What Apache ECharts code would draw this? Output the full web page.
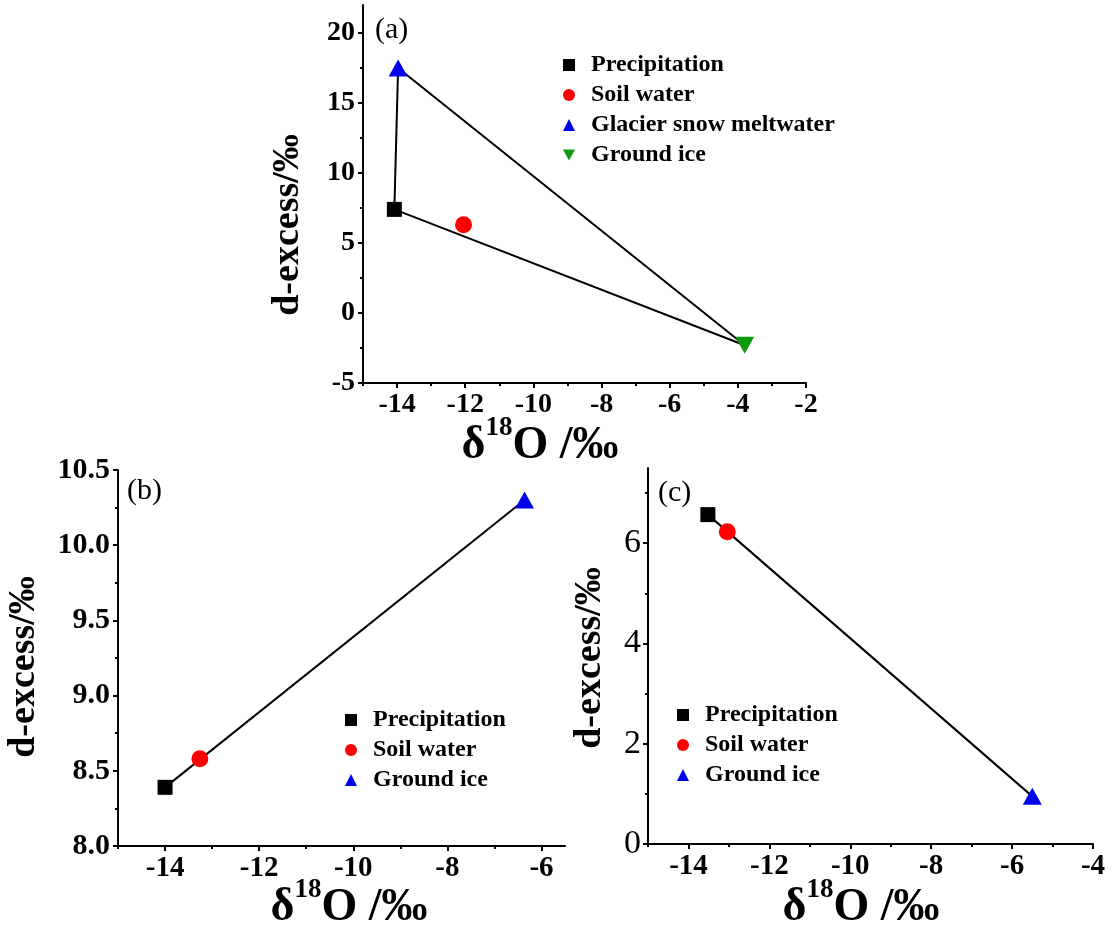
<!DOCTYPE html>
<html>
<head>
<meta charset="utf-8">
<script src="https://cdn.jsdelivr.net/npm/echarts@6/dist/echarts.min.js"></script>
<style>
  html, body { margin: 0; background: #fff; }
  #main { width: 1115px; height: 930px; }
</style>
</head>
<body>
<div id="main"></div>
<script>
// (a) end members
const precipA = [-14.08, 7.4];
const soilA = [-12.05, 6.3];
const glacierA = [-13.97, 17.5];
const iceA = [-3.8, -2.3];
// (b)
const precipB = [-14.0, 8.39];
const soilB = [-13.26, 8.58];
const iceB = [-6.36, 10.3];
// (c)
const precipC = [-13.52, 6.57];
const soilC = [-13.04, 6.23];
const iceC = [-5.5, 0.95];

// tick positions
const xTicksA = [-14, -12, -10, -8, -6, -4, -2];
const xMinorA = [-15, -13, -11, -9, -7, -5, -3];
const yTicksA = [-5, 0, 5, 10, 15, 20];
const yMinorA = [-2.5, 2.5, 7.5, 12.5, 17.5];
const xTicksB = [-14, -12, -10, -8, -6];
const xMinorB = [-15, -13, -11, -9, -7];
const yTicksB = [8, 8.5, 9, 9.5, 10, 10.5];
const yMinorB = [8.25, 8.75, 9.25, 9.75, 10.25];
const xTicksC = [-14, -12, -10, -8, -6, -4];
const xMinorC = [-15, -13, -11, -9, -7, -5];
const yTicksC = [0, 2, 4, 6];
const yMinorC = [1, 3, 5, 7];

const SERIF = '"Times New Roman", "Liberation Serif", serif';
const BLACK = '#000';
const RED = '#f00';
const BLUE = '#0000f0';
const GREEN = '#0c9a0c';

let myChart = echarts.init(document.getElementById('main'));

// main axis with labels + major ticks, and a bare axis only for the minor ticks
function axisPair(dim, gridIndex, min, max, ticks, minor, label) {
    let pos = dim === 'x' ? 'bottom' : 'left';
    return [
        {
            type: 'value', gridIndex: gridIndex, min: min, max: max, position: pos,
            axisLine: {show: true, onZero: false, lineStyle: {color: BLACK, width: 2}},
            axisTick: {show: true, customValues: ticks, length: 5, lineStyle: {color: BLACK, width: 2}},
            axisLabel: Object.assign({customValues: ticks, color: BLACK, fontFamily: SERIF}, label),
            splitLine: {show: false}
        },
        {
            type: 'value', gridIndex: gridIndex, min: min, max: max, position: pos,
            axisLine: {show: false, onZero: false},
            axisTick: {show: true, customValues: minor, length: 3, lineStyle: {color: BLACK, width: 2}},
            axisLabel: {show: false},
            splitLine: {show: false}
        }
    ];
}

function legendOf(left, top, items) {
    return {
        orient: 'vertical', left: left, top: top, padding: 0,
        itemWidth: 12, itemHeight: 12, itemGap: 6,
        selectedMode: false,
        textStyle: {fontSize: 24, fontWeight: 'bold', fontFamily: SERIF, color: BLACK,
            lineHeight: 24, padding: [0, 0, 0, 11]},
        data: items
    };
}

function scatter(name, point, symbol, color, x, y, extra) {
    return Object.assign({
        name: name, type: 'scatter', xAxisIndex: x, yAxisIndex: y,
        data: [point], symbol: symbol, itemStyle: {color: color, opacity: 1}, z: 3
    }, extra);
}

function mixLine(points, x, y) {
    return {
        type: 'line', xAxisIndex: x, yAxisIndex: y, data: points,
        symbol: 'none', lineStyle: {color: BLACK, width: 2}, z: 2, silent: true
    };
}

function xTitle(x, y) {
    return {
        type: 'text', x: x, y: y,
        style: {
            text: '{d|δ}{s|18}{d|O /‰}', align: 'center', verticalAlign: 'middle',
            textAlign: 'center', textVerticalAlign: 'middle',
            rich: {
                d: {fontSize: 46, fontWeight: 'bold', fontFamily: SERIF, fill: BLACK, verticalAlign: 'bottom', padding: [8, 0, 0, 0]},
                s: {fontSize: 27, fontWeight: 'bold', fontFamily: SERIF, fill: BLACK, verticalAlign: 'top'}
            }
        }
    };
}

function yTitle(x, y) {
    return {
        type: 'text', x: x, y: y, rotation: Math.PI / 2,
        style: {
            text: 'd-excess/‰', fontSize: 38, fontWeight: 'bold', fontFamily: SERIF, fill: BLACK,
            align: 'center', verticalAlign: 'middle', textAlign: 'center', textVerticalAlign: 'middle'
        }
    };
}

function panelTag(text, x, y) {
    return {
        type: 'text', x: x, y: y,
        style: {text: text, fontSize: 30, fontFamily: SERIF, fill: BLACK,
            align: 'left', verticalAlign: 'middle', textAlign: 'left', textVerticalAlign: 'middle'}
    };
}

let xAxes = [].concat(
    axisPair('x', 0, -15, -2, xTicksA, xMinorA, {fontSize: 28, fontWeight: 'bold', margin: 8}),
    axisPair('x', 1, -15, -5.5, xTicksB, xMinorB, {fontSize: 29, fontWeight: 'bold', margin: 8}),
    axisPair('x', 2, -15, -4, xTicksC, xMinorC, {fontSize: 29, fontWeight: 'bold', margin: 8})
);
let yAxes = [].concat(
    axisPair('y', 0, -5, 22, yTicksA, yMinorA, {fontSize: 28, fontWeight: 'bold', margin: 8}),
    axisPair('y', 1, 8, 10.5, yTicksB, yMinorB, {fontSize: 30, fontWeight: 'bold', margin: 8,
        formatter: function (v) { return v.toFixed(1); }}),
    axisPair('y', 2, 0, 7.5, yTicksC, yMinorC, {fontSize: 34, fontWeight: 'normal', margin: 7})
);

let option = {
    animation: false,
    backgroundColor: '#fff',
    grid: [
        {left: 363, top: 5, width: 443, height: 378, outerBoundsMode: 'none'},
        {left: 118, top: 470, width: 447, height: 376, outerBoundsMode: 'none'},
        {left: 648, top: 468, width: 445, height: 376, outerBoundsMode: 'none'}
    ],
    xAxis: xAxes,
    yAxis: yAxes,
    legend: [
        legendOf(563, 53, [
            {name: 'Precipitation', icon: 'rect', itemStyle: {color: BLACK}},
            {name: 'Soil water', icon: 'circle', itemStyle: {color: RED}},
            {name: 'Glacier snow meltwater', icon: 'triangle', itemStyle: {color: BLUE}},
            {name: 'Ground ice', icon: 'path://M0,0L10,0L5,9Z', itemStyle: {color: GREEN}}
        ]),
        legendOf(345, 708, [
            {name: 'Precipitation', icon: 'rect', itemStyle: {color: BLACK}},
            {name: 'Soil water', icon: 'circle', itemStyle: {color: RED}},
            {name: 'Ground ice', icon: 'triangle', itemStyle: {color: BLUE}}
        ]),
        legendOf(677, 703, [
            {name: 'Precipitation', icon: 'rect', itemStyle: {color: BLACK}},
            {name: 'Soil water', icon: 'circle', itemStyle: {color: RED}},
            {name: 'Ground ice', icon: 'triangle', itemStyle: {color: BLUE}}
        ])
    ],
    graphic: [
        panelTag('(a)', 375, 30),
        panelTag('(b)', 127, 491),
        panelTag('(c)', 658, 493),
        xTitle(540, 442),
        xTitle(349, 904),
        xTitle(861, 904),
        yTitle(288, 225),
        yTitle(24, 667),
        yTitle(590, 658)
    ],
    series: [
        // (a): mixing triangle, axes 0 / 0
        mixLine([precipA, glacierA, iceA, precipA], 0, 0),
        scatter('Precipitation', precipA, 'rect', BLACK, 0, 0, {symbolSize: 15}),
        scatter('Soil water', soilA, 'circle', RED, 0, 0, {symbolSize: 17}),
        scatter('Glacier snow meltwater', glacierA, 'triangle', BLUE, 0, 0, {symbolSize: [19, 17]}),
        scatter('Ground ice', iceA, 'triangle', GREEN, 0, 0, {symbolSize: [19, 17], symbolRotate: 180}),
        // (b): axes 2 / 2
        mixLine([precipB, iceB], 2, 2),
        scatter('Precipitation', precipB, 'rect', BLACK, 2, 2, {symbolSize: 15}),
        scatter('Soil water', soilB, 'circle', RED, 2, 2, {symbolSize: 17}),
        scatter('Ground ice', iceB, 'triangle', BLUE, 2, 2, {symbolSize: [19, 17]}),
        // (c): axes 4 / 4
        mixLine([precipC, iceC], 4, 4),
        scatter('Precipitation', precipC, 'rect', BLACK, 4, 4, {symbolSize: 15}),
        scatter('Soil water', soilC, 'circle', RED, 4, 4, {symbolSize: 17}),
        scatter('Ground ice', iceC, 'triangle', BLUE, 4, 4, {symbolSize: [19, 17]})
    ]
};

myChart.setOption(option);

window.addEventListener('resize', () => {
    myChart.resize();
});
</script>
</body>
</html>
